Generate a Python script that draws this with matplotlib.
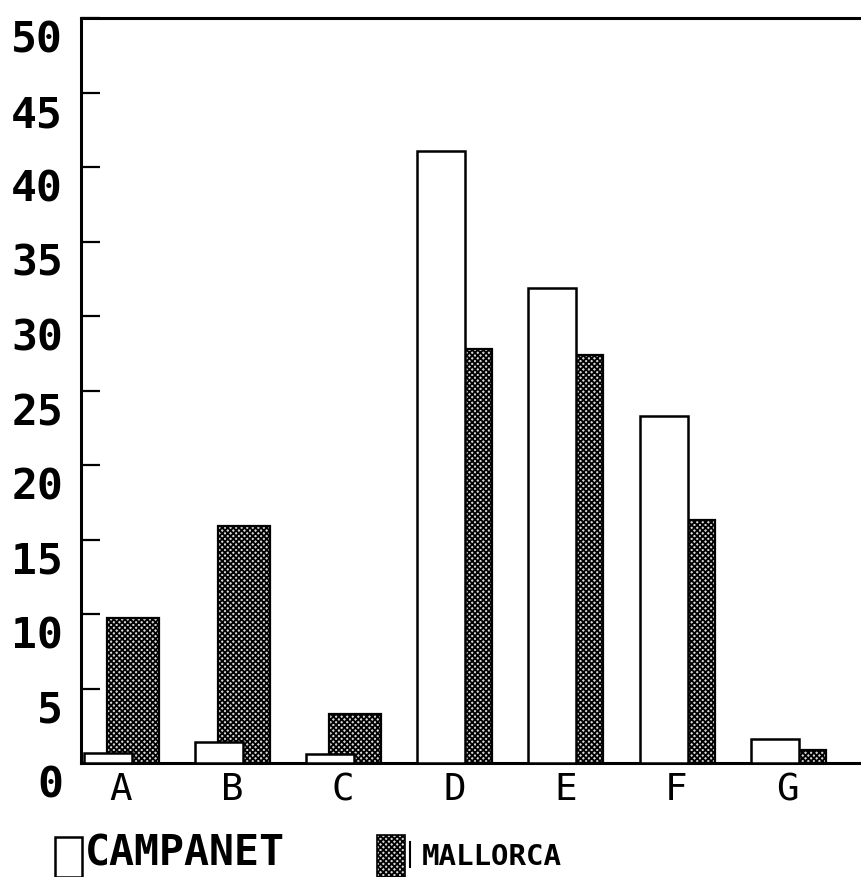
import numpy as np
import matplotlib.pyplot as plt
import matplotlib.transforms as mtransforms
from matplotlib.patches import Rectangle

# data
categories = ['A', 'B', 'C', 'D', 'E', 'F', 'G']
campanet = [0.7, 1.4, 0.6, 41.1, 31.9, 23.3, 1.6]
mallorca = [9.7, 15.9, 3.3, 27.8, 27.4, 16.3, 0.9]
yticks = np.arange(0, 55, 5)

plt.rcParams['font.family'] = ['DejaVu Sans Mono']
plt.rcParams['hatch.linewidth'] = 1.3

W, H = 861, 878
fig = plt.figure(figsize=(W / 100, H / 100), dpi=100)
ax = fig.add_axes([81 / W, 1 - 764 / H, 1 - 81 / W, (764 - 19) / H])

x = np.arange(len(categories))
# mallorca bars sit behind, shifted right
ax.bar(x - 0.126, mallorca, width=0.468, align='edge', facecolor='#d8d8d8',
       edgecolor='black', hatch='xxxxxx', linewidth=1.6, zorder=2)
ax.bar(x - 0.333, campanet, width=0.432, align='edge', facecolor='white',
       edgecolor='black', linewidth=1.8, zorder=3)

ax.set_xlim(-0.36, 6.66)
ax.set_ylim(0, 50)
ax.set_yticks(yticks)
ax.set_yticklabels([str(v) for v in yticks], fontsize=31, fontweight='bold')
ax.set_xticks(x)
ax.set_xticklabels(categories, fontsize=27)
ax.tick_params(axis='y', direction='in', length=14, width=1.6, pad=13)
ax.tick_params(axis='x', length=0, pad=6)

off = mtransforms.ScaledTranslation(0, -17 / 100, fig.dpi_scale_trans)
for lbl in ax.get_yticklabels():
    lbl.set_transform(lbl.get_transform() + off)

for s in ['left', 'bottom', 'top']:
    ax.spines[s].set_linewidth(2.2)
ax.spines['right'].set_visible(False)

# legend drawn by hand under the axes
fig.patches.append(Rectangle((55 / W, 0), 27 / W, (878 - 838) / H,
                             transform=fig.transFigure, facecolor='white',
                             edgecolor='black', linewidth=1.8))
fig.text(85 / W, (878 - 866) / H, 'CAMPANET', fontsize=30, fontweight='bold',
         ha='left', va='baseline')
fig.patches.append(Rectangle((377 / W, 0), 28 / W, (878 - 836) / H,
                             transform=fig.transFigure, facecolor='#d8d8d8',
                             edgecolor='black', hatch='xxxxxx', linewidth=1.2))
fig.lines.append(plt.Line2D([410 / W, 410 / W], [(878 - 868) / H, (878 - 843) / H],
                            transform=fig.transFigure, color='black', linewidth=1.5))
fig.text(422 / W, (878 - 865) / H, 'MALLORCA', fontsize=21, fontweight='bold',
         ha='left', va='baseline')

fig.savefig('out.png', dpi=100)
